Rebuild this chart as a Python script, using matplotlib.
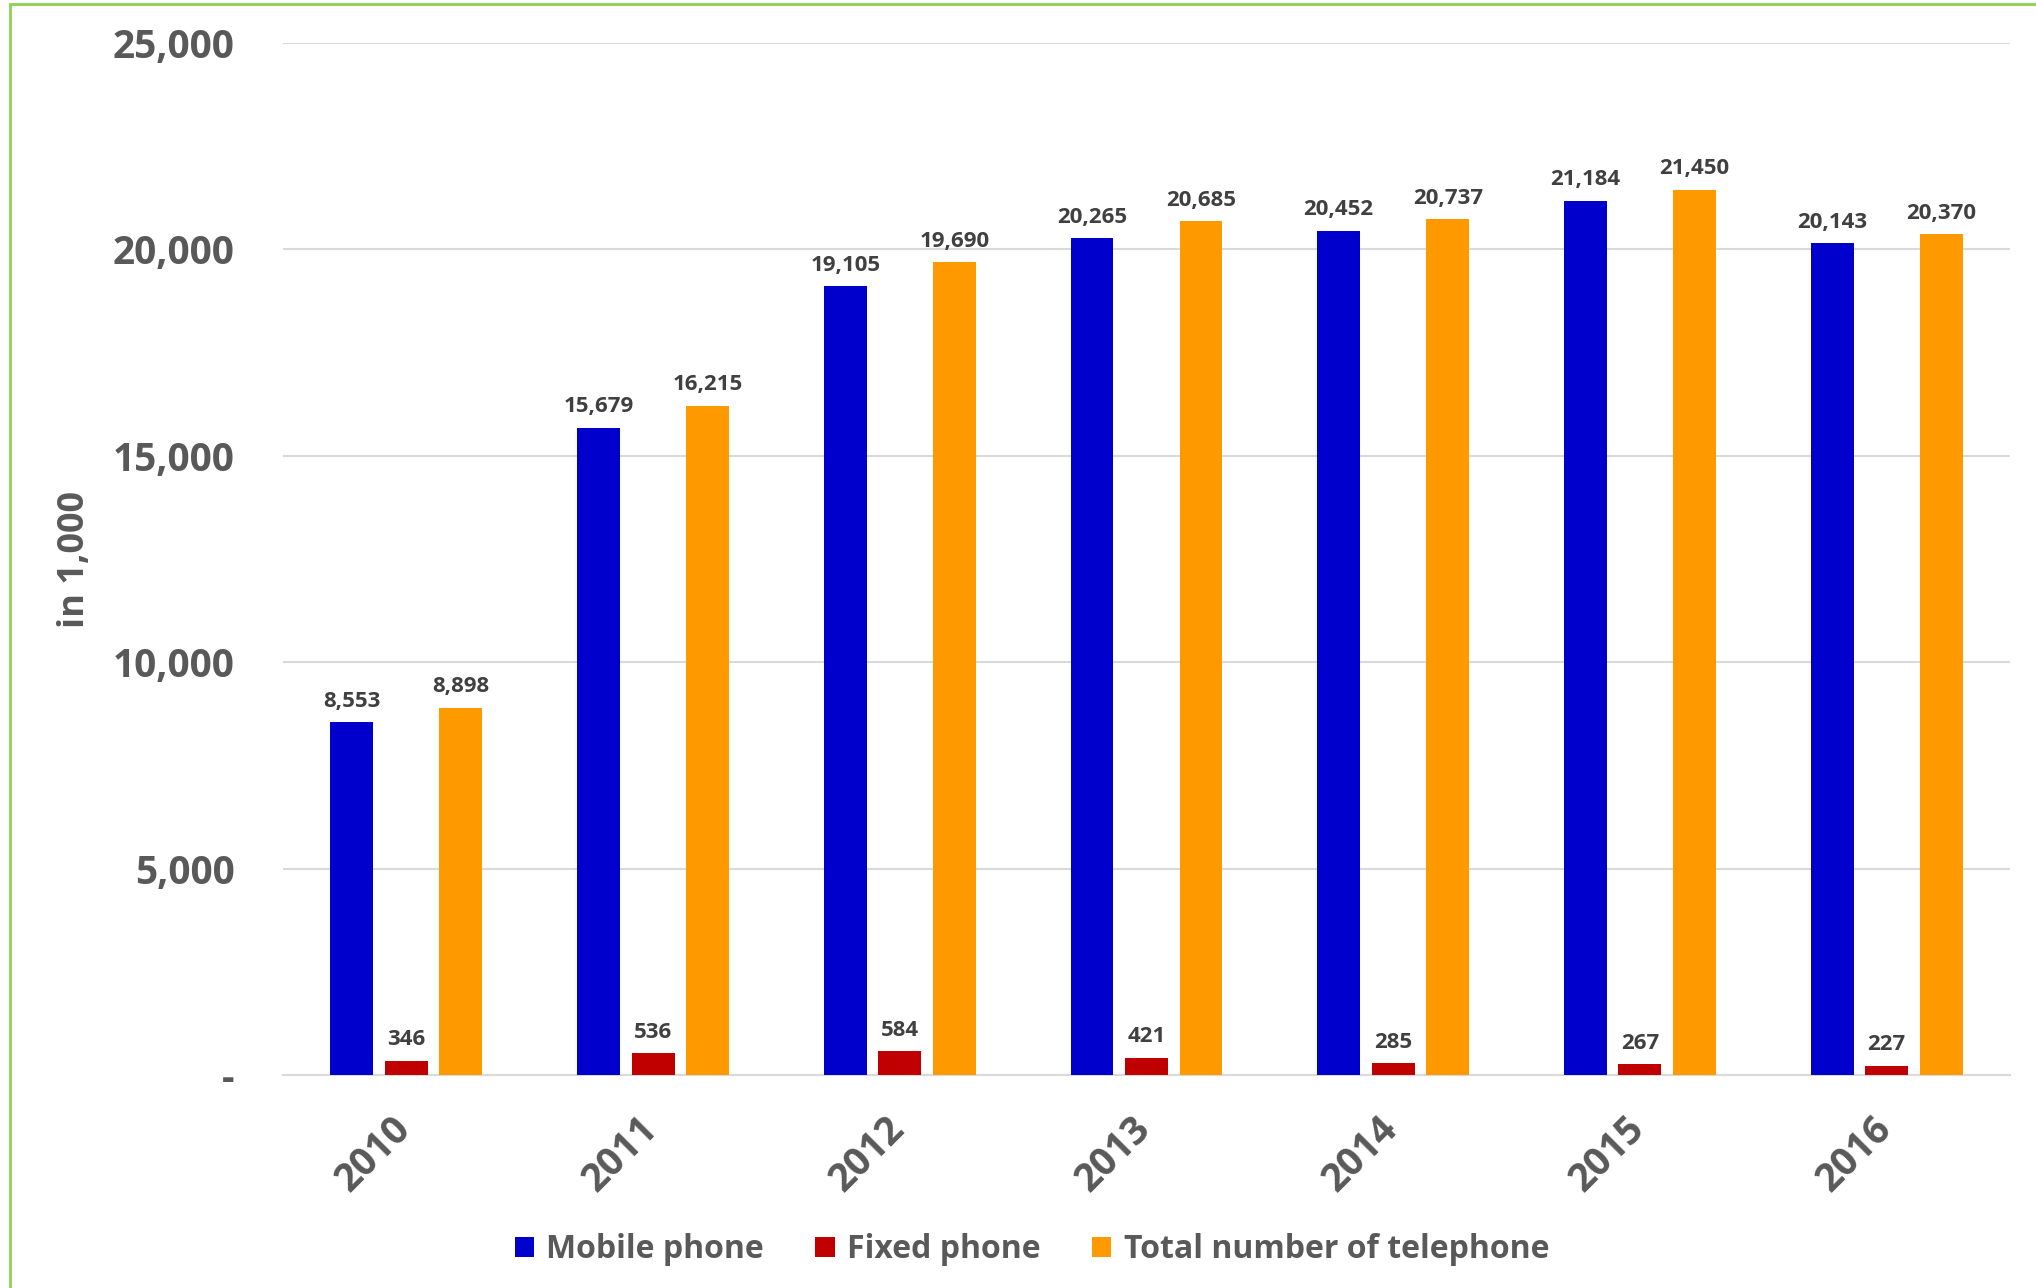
import matplotlib
matplotlib.use("Agg")
import matplotlib.pyplot as plt
import matplotlib.transforms as mtransforms
import numpy as np
from matplotlib.patches import Rectangle

plt.rcParams['font.family'] = ['Open Sans', 'DejaVu Sans']

years = ["2010", "2011", "2012", "2013", "2014", "2015", "2016"]
mobile = [8553, 15679, 19105, 20265, 20452, 21184, 20143]
fixed = [346, 536, 584, 421, 285, 267, 227]
total = [8898, 16215, 19690, 20685, 20737, 21450, 20370]
series_names = ["Mobile phone", "Fixed phone", "Total number of telephone"]
colors = ["#0000CC", "#C00000", "#FF9900"]

fig = plt.figure(figsize=(20.36, 12.88), dpi=100)
ax = fig.add_axes([283/2036, 1 - 1075/1288, (2010-283)/2036, (1075-43)/1288])

x = np.arange(len(years))
w = 0.174
off = 0.221
grey = "#595959"
for i, (vals, name, c) in enumerate(zip([mobile, fixed, total], series_names, colors)):
    bars = ax.bar(x + (i - 1) * off, vals, width=w, color=c, label=name, zorder=3)
    for b, v in zip(bars, vals):
        ax.text(b.get_x() + b.get_width() / 2, v + 250, f"{v:,}", ha="center", va="bottom",
                fontsize=16, fontweight="bold", color="#404040")

ax.set_xlim(-0.5, len(years) - 0.5)
ax.set_ylim(0, 25000)
ax.set_yticks(np.arange(0, 25001, 5000))
ax.set_yticklabels(["-"] + [f"{v:,}" for v in range(5000, 25001, 5000)],
                   fontsize=28, fontweight="bold", color=grey)
ax.set_xticks(x)
ax.set_xticklabels([])
offset = mtransforms.ScaledTranslation(-15/100, -34/100, fig.dpi_scale_trans)
for xi, yr in zip(x, years):
    ax.text(xi, 0, yr, transform=ax.get_xaxis_transform() + offset, rotation=45,
            rotation_mode="anchor", ha="right", va="top", fontsize=28,
            fontweight="bold", color=grey)
ax.tick_params(axis="both", length=0)
ax.tick_params(axis="y", pad=35)
ax.grid(axis="y", color="#D9D9D9", linewidth=1.5, zorder=0)
for s in ["top", "right", "left"]:
    ax.spines[s].set_visible(False)
ax.spines["bottom"].set_color("#D9D9D9")
ax.spines["bottom"].set_linewidth(1.5)
ax.set_ylabel("in 1,000", fontsize=26, fontweight="bold", color=grey)
ax.yaxis.set_label_coords(-0.110, 0.5)

leg = fig.legend(loc="center", bbox_to_anchor=(1032/2036, 1 - 1250/1288), ncol=3,
                 frameon=False, fontsize=23, handlelength=0.6, handleheight=0.6,
                 columnspacing=1.6, handletextpad=0.4)
for t in leg.get_texts():
    t.set_color(grey)
    t.set_fontweight("bold")

fig.patches.append(Rectangle((10/2036, -0.1), 1.2, 1 - 4/1288 + 0.1, transform=fig.transFigure,
                             fill=False, edgecolor="#92D050", linewidth=2))

fig.savefig("out.png", dpi=100)
